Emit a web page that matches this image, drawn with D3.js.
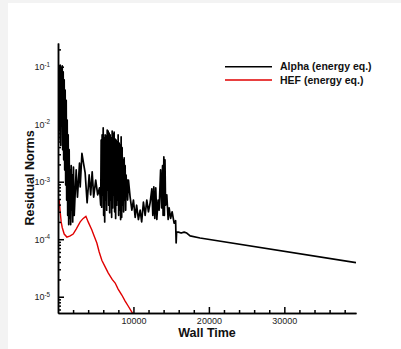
<!DOCTYPE html>
<html lang="en">
<head>
<meta charset="UTF-8">
<title>Residual Norms</title>
<script src="https://cdn.jsdelivr.net/npm/d3@7"></script>
<style>
  body { margin: 0; background: #f3f3f3; }
  svg { display: block; font-family: "Liberation Sans", Arial, sans-serif; }
  .axis path, .axis line { stroke: #000; stroke-width: 1.5; }
  .axis text { fill: #222; font-size: 9px; }
</style>
</head>
<body>
<div id="chart"></div>
<script>
// Alpha (energy eq.) residual vs wall time
const alphaTime = [30, 90, 160, 225, 290, 360, 420, 490, 560, 620, 690, 755, 820, 890, 950, 1020,
  1090, 1150, 1220, 1285, 1350, 1420, 1480, 1550, 1620, 1680, 1750, 1815, 1880, 1950,
  2050, 2150, 2410, 2580, 2850, 2940, 3170, 3380, 3600, 3860, 4130, 4330, 4530, 4730, 5000, 5260, 5500,
  5660, 5720, 5790, 5850, 5920, 5990, 6050, 6120, 6190, 6250, 6320, 6380, 6450, 6520, 6580, 6650,
  6720, 6780, 6850, 6910, 6980, 7050, 7110, 7180, 7250, 7310, 7380, 7440, 7510, 7580, 7640, 7710,
  7780, 7840, 7910, 7970, 8040, 8110, 8170, 8240, 8300, 8370, 8440, 8500, 8570, 8640, 8700, 8770,
  8830, 8900, 8970, 9030, 9100, 9170,
  9230, 9340, 9560, 9790, 10000, 10230, 10420, 10660, 10890, 11090, 11320, 11550, 11770, 11990,
  12210, 12440, 12570, 12700, 12830, 12960, 13100, 13270, 13400, 13600, 13730, 13860, 13930, 14030,
  14100, 14180, 14260, 14420, 14600, 14730, 14930, 15130, 15390, 15590, 15660, 15720, 15960, 16320,
  16720, 17070, 17510, 18830, 39500];
const alphaNorm = [0.072, 0.0053, 0.103, 0.0079, 0.107, 0.0043, 0.095, 0.0118, 0.103, 0.0036, 0.081, 0.0024,
  0.059, 0.0016, 0.039, 8.8e-4, 0.026, 4.8e-4, 0.0118, 2.6e-4, 0.0065, 1.8e-4, 0.0036, 2.3e-4,
  0.0016, 1.8e-4, 0.0019, 3.2e-4, 0.00131, 2.0e-4,
  0.0018, 2.6e-4, 0.0016, 5.4e-4, 0.0021, 8.1e-4, 0.0031, 0.0021, 0.00142, 4.3e-4, 0.00131, 5.9e-4,
  0.00148, 5.4e-4, 0.00107, 5.9e-4, 7.8e-4,
  3.9e-4, 5.3e-3, 3.6e-4, 6.5e-3, 5.9e-4, 8.6e-3, 2.6e-4, 5.8e-3, 2.0e-4, 6.5e-3, 4.8e-4, 6.2e-3,
  3.2e-4, 7.9e-3, 7.2e-4, 7.6e-3, 3.9e-4, 7.0e-3, 2.9e-4, 6.5e-3, 4.8e-4, 5.8e-3, 2.4e-4, 7.6e-3,
  3.5e-4, 6.8e-3, 5.9e-4, 7.3e-3, 3.0e-4, 5.5e-3, 2.3e-4, 5.3e-3, 3.9e-4, 4.9e-3, 4.8e-4, 6.5e-3,
  2.6e-4, 4.7e-3, 3.2e-4, 4.3e-3, 2.2e-4, 6.0e-3, 2.4e-4, 3.9e-3, 3.9e-4, 2.4e-3, 3.0e-4, 2.6e-3,
  4.8e-4, 1.9e-3, 3.2e-4, 1.3e-3, 5.9e-4, 1.07e-3,
  4.8e-4, 1.07e-3, 5.4e-4, 3.2e-4, 4.8e-4, 2.4e-4, 3.9e-4, 2.2e-4, 3.2e-4, 2.0e-4, 4.4e-4, 2.6e-4,
  4.8e-4, 3.0e-4, 4.3e-4, 7.5e-4, 2.6e-4, 8.1e-4, 2.3e-4, 7.8e-4, 2.2e-4, 4.8e-4, 3.2e-4, 1.6e-3,
  3.5e-4, 1.9e-3, 2.6e-4, 2.7e-3, 2.6e-4, 2.4e-3, 3.9e-4, 5.9e-4, 2.2e-4, 3.5e-4, 2.3e-4, 3.0e-4,
  1.9e-4, 2.1e-4, 8.6e-5, 1.33e-4, 1.33e-4, 1.28e-4, 1.33e-4, 1.28e-4, 1.14e-4, 1.05e-4, 3.9e-5];

// HEF (energy eq.)
const hefTime = [160, 290, 420, 560, 820, 1180, 1620, 2010, 2410, 2940, 3340, 3700, 4000, 4490,
  4790, 5150, 5460, 5810, 6250, 6650, 7180, 7580, 7970, 8460, 8900, 9300, 9790, 10090];
const hefNorm = [4.8e-4, 3.0e-4, 2.0e-4, 1.6e-4, 1.23e-4, 1.09e-4, 1.14e-4, 1.23e-4, 1.5e-4, 2.0e-4,
  2.3e-4, 2.5e-4, 2.0e-4, 1.45e-4, 1.14e-4, 8.6e-5, 6.0e-5, 4.3e-5, 3.3e-5, 2.6e-5, 2.0e-5,
  1.73e-5, 1.36e-5, 1.07e-5, 8.4e-6, 6.9e-6, 5.4e-6, 4.6e-6];

const xTicks = [10000, 20000, 30000];
const xMinor = [2000, 4000, 6000, 8000, 12000, 14000, 16000, 18000, 22000, 24000, 26000, 28000,
  32000, 34000, 36000, 38000];
const yExponents = [-5, -4, -3, -2, -1];
const seriesNames = ["Alpha (energy eq.)", "HEF (energy eq.)"];
const seriesColors = ["#000000", "#e00000"];

const W = 401, H = 349;
const plotLeft = 58, plotRight = 356, plotTop = 43, plotBottom = 313;

const x = d3.scaleLinear().domain([0, 39500]).range([plotLeft, plotRight]);
const y = d3.scaleLog().domain([Math.pow(10, -5.283), Math.pow(10, -0.588)]).range([plotBottom, plotTop]);

const svg = d3.select("#chart").append("svg").attr("width", W).attr("height", H);
svg.append("rect").attr("x", 8).attr("y", 3).attr("width", W - 8).attr("height", H - 3).attr("fill", "#fff");

svg.append("clipPath").attr("id", "plot")
  .append("rect").attr("x", plotLeft).attr("y", plotTop)
  .attr("width", plotRight - plotLeft).attr("height", plotBottom - plotTop);

const line = d3.line().x(d => x(d[0])).y(d => y(d[1]));
const alpha = alphaTime.map((t, i) => [t, alphaNorm[i]]);
const hef = hefTime.map((t, i) => [t, hefNorm[i]]);

const g = svg.append("g").attr("clip-path", "url(#plot)");
g.append("path").datum(hef).attr("d", line)
  .attr("fill", "none").attr("stroke", seriesColors[1]).attr("stroke-width", 1.4);
g.append("path").datum(alpha).attr("d", line)
  .attr("fill", "none").attr("stroke", seriesColors[0]).attr("stroke-width", 1.7)
  .attr("stroke-linejoin", "round");

// y minor ticks 2..9 per decade
const yMinor = [];
for (let e = -6; e <= 0; e++) for (let k = 2; k <= 9; k++) {
  const v = k * Math.pow(10, e);
  if (v >= y.domain()[0] && v <= y.domain()[1]) yMinor.push(v);
}

svg.append("g").attr("class", "axis").attr("transform", `translate(${plotLeft},0)`)
  .call(d3.axisLeft(y).tickValues(yMinor).tickSize(-3).tickSizeOuter(0).tickFormat(""));
const yAxis = svg.append("g").attr("class", "axis").attr("transform", `translate(${plotLeft},0)`)
  .call(d3.axisLeft(y).tickValues(yExponents.map(e => Math.pow(10, e)))
    .tickSize(-6).tickSizeOuter(0).tickPadding(8).tickFormat(""));
yAxis.selectAll(".tick text").each(function(d, i) {
  const t = d3.select(this).attr("dy", "0.35em");
  t.append("tspan").text("10");
  t.append("tspan").attr("dy", "-3.8").attr("font-size", "6.3px").text(String(yExponents[i]));
});

svg.append("g").attr("class", "axis").attr("transform", `translate(0,${plotBottom})`)
  .call(d3.axisBottom(x).tickValues(xMinor).tickSize(-3).tickSizeOuter(0).tickFormat(""));
svg.append("g").attr("class", "axis").attr("transform", `translate(0,${plotBottom})`)
  .call(d3.axisBottom(x).tickValues(xTicks).tickSize(-6).tickSizeOuter(0).tickPadding(5)
    .tickFormat(d3.format("d")))
  .selectAll("text").attr("font-size", "9.5px");

svg.append("text").attr("x", 207).attr("y", 337).attr("text-anchor", "middle")
  .attr("font-weight", "bold").attr("font-size", "12.5px").attr("fill", "#111").text("Wall Time");
svg.append("text").attr("transform", "translate(34,178) rotate(-90)").attr("text-anchor", "middle")
  .attr("font-weight", "bold").attr("font-size", "12.5px").attr("fill", "#111").text("Residual Norms");

// legend
const legend = svg.append("g").attr("transform", "translate(225,66.7)");
seriesNames.forEach((name, i) => {
  const row = legend.append("g").attr("transform", `translate(0,${i * 13.3})`);
  row.append("line").attr("x1", 0).attr("x2", 47).attr("stroke", seriesColors[i]).attr("stroke-width", 1.4);
  row.append("text").attr("x", 55).attr("dy", "0.36em").attr("font-weight", "bold")
    .attr("font-size", "10.5px").attr("fill", "#111").text(name);
});
</script>
</body>
</html>
